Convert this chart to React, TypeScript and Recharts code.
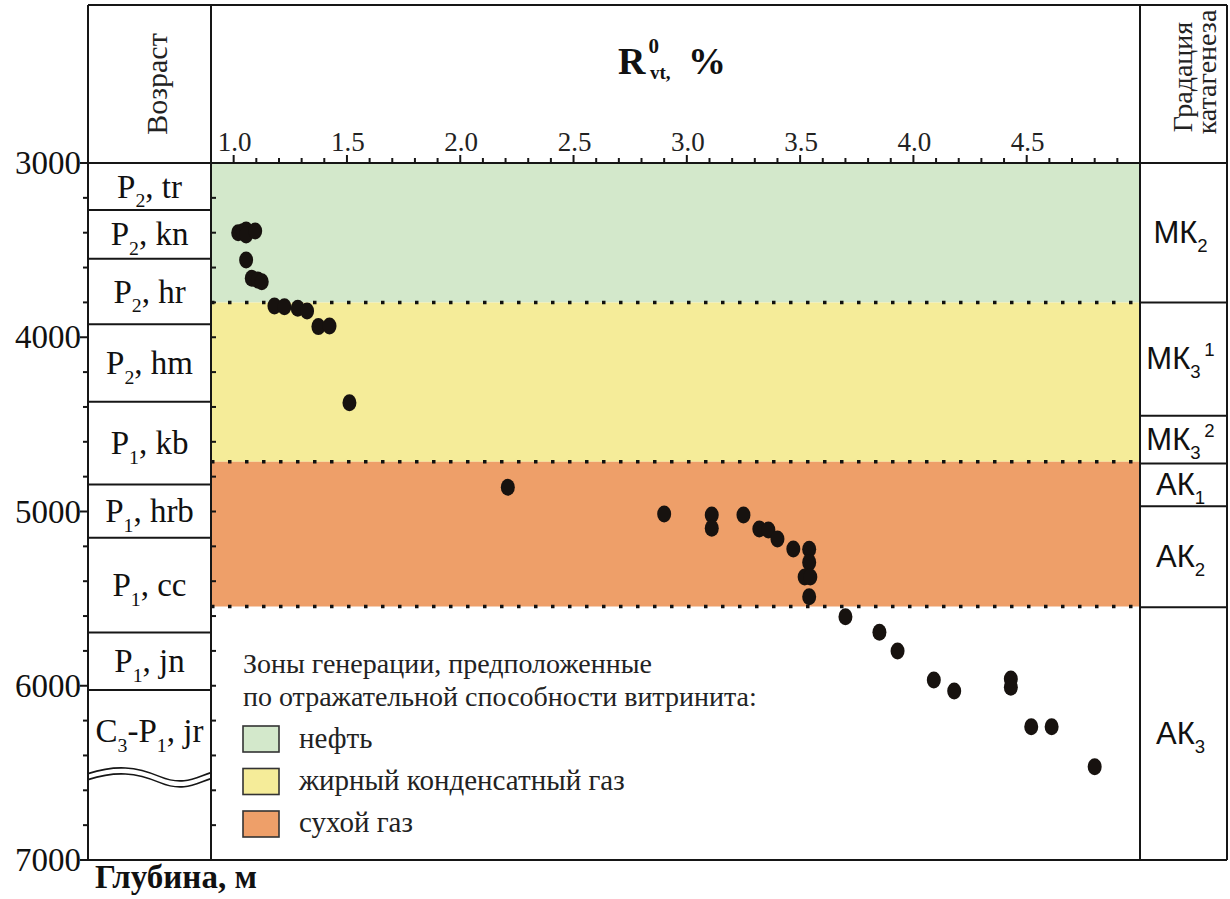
import React from 'react';
import {
  ScatterChart, Scatter, XAxis, YAxis, ReferenceArea, ReferenceLine,
} from 'recharts';

// vitrinite reflectance R0vt, % and sample depth, m
const rVt = [
  1.02, 1.04, 1.055, 1.055, 1.095, 1.055, 1.08, 1.107, 1.124,
  1.18, 1.224, 1.283, 1.324, 1.374, 1.423, 1.511,
  2.21, 2.90, 3.11, 3.11, 3.25, 3.32, 3.36, 3.40, 3.47,
  3.54, 3.54, 3.52, 3.545, 3.54,
  3.70, 3.85, 3.93, 4.09, 4.18, 4.43, 4.43, 4.52, 4.61, 4.80,
];
const depthM = [
  3400, 3395, 3385, 3413, 3390, 3557, 3662, 3672, 3681,
  3821, 3825, 3834, 3849, 3939, 3935, 4376,
  4861, 5014, 5020, 5096, 5020, 5100, 5106, 5158, 5215,
  5217, 5292, 5376, 5376, 5489,
  5604, 5693, 5801, 5967, 6030, 5961, 6009, 6235, 6235, 6465,
];

// generation zones
const zoneNames = ['нефть', 'жирный конденсатный газ', 'сухой газ'];
const zoneTop = [3000, 3800, 4715];
const zoneBottom = [3800, 4715, 5545];
const zoneColors = ['#d3e8cb', '#f5ec99', '#ee9f69'];

// age column
const ageLabels = ['P_2, tr', 'P_2, kn', 'P_2, hr', 'P_2, hm', 'P_1, kb', 'P_1, hrb', 'P_1, cc', 'P_1, jn', 'C_3-P_1, jr'];
const ageTop = [3000, 3270, 3550, 3925, 4370, 4845, 5150, 5695, 6025];
const ageBottom = [3270, 3550, 3925, 4370, 4845, 5150, 5695, 6025, 6500];
const ageBase = 7000;
const unconformity = 6510;

// catagenesis grade column
const gradeLabels = ['МК_2', 'МК_3^1', 'МК_3^2', 'АК_1', 'АК_2', 'АК_3'];
const gradeBounds = [3000, 3800, 4450, 4725, 4970, 5550, 7000];

// axes
const xTicks = [
  1.0, 1.1, 1.2, 1.3, 1.4, 1.5, 1.6, 1.7, 1.8, 1.9,
  2.0, 2.1, 2.2, 2.3, 2.4, 2.5, 2.6, 2.7, 2.8, 2.9,
  3.0, 3.1, 3.2, 3.3, 3.4, 3.5, 3.6, 3.7, 3.8, 3.9,
  4.0, 4.1, 4.2, 4.3, 4.4, 4.5, 4.6, 4.7, 4.8, 4.9,
];
const xLabelTicks = [1.0, 1.5, 2.0, 2.5, 3.0, 3.5, 4.0, 4.5];
const depthTicks = [
  3000, 3200, 3400, 3600, 3800, 4000, 4200, 4400, 4600, 4800,
  5000, 5200, 5400, 5600, 5800, 6000, 6200, 6400, 6600, 6800, 7000,
];
const depthLabelTicks = [3000, 4000, 5000, 6000, 7000];

const points = rVt.map((r, i) => ({ r, depth: depthM[i] }));

const INK = '#161616';
const SERIF = '"Liberation Serif", "DejaVu Serif", serif';
const SANS = '"Liberation Sans", Arial, sans-serif';
const AGE_W = 123;
const GRADE_W = 87;

const ageMid = ageTop.map((t, i) => (t + ageBottom[i]) / 2);
const ageLines = [...ageTop, ageBase];
const gradeMid = gradeLabels.map((_, i) => (gradeBounds[i] + gradeBounds[i + 1]) / 2);
const uniq = (a: number[]) => Array.from(new Set(a)).sort((p, q) => p - q);
const ageTicks = uniq([...ageLines, ...ageMid, ...depthTicks, unconformity]);
const gradeTicks = uniq([...gradeBounds, ...gradeMid]);

// "P_2, tr" -> P with subscript 2 ; "^1" superscript
function rich(label: string, size: number) {
  const parts = label.split(/(_\d|\^\d)/).filter(Boolean);
  let shift = 0;
  return parts.map((p, i) => {
    if (p[0] === '_') {
      const s = size * 0.3;
      const dy = s - shift; shift = s;
      return <tspan key={i} dy={dy} fontSize={size * 0.6}>{p.slice(1)}</tspan>;
    }
    if (p[0] === '^') {
      const s = -size * 0.42;
      const dy = s - shift; shift = s;
      return <tspan key={i} dy={dy} dx={size * 0.12} fontSize={size * 0.6}>{p.slice(1)}</tspan>;
    }
    const dy = -shift; shift = 0;
    return <tspan key={i} dy={dy}>{p}</tspan>;
  });
}

const isHalf = (v: number) => Math.abs(v * 2 - Math.round(v * 2)) < 1e-6;

const TopTick = ({ x, y, payload }: any) => {
  const v = payload.value;
  const major = isHalf(v);
  return (
    <g>
      <line x1={x} x2={x} y1={y} y2={y - (major ? 8 : 5)} stroke={INK} strokeWidth={2} />
      {xLabelTicks.includes(v) && (
        <text x={x + 1} y={y - 12} textAnchor="middle" fontFamily={SERIF} fontSize={27} fill="#222">
          {v.toFixed(1)}
        </text>
      )}
    </g>
  );
};

const BottomTick = ({ x, y, payload }: any) => (
  <line x1={x} x2={x} y1={y} y2={y - (isHalf(payload.value) ? 8 : 5)} stroke={INK} strokeWidth={2} />
);

const DepthTick = ({ x, y, payload }: any) => {
  const v = payload.value;
  const major = depthLabelTicks.includes(v);
  return (
    <g>
      <line x1={x} x2={x - (major ? 8 : 5)} y1={y} y2={y} stroke={INK} strokeWidth={2} />
      {major && (
        <text x={x - 7} y={y + 11} textAnchor="end" fontFamily={SERIF} fontSize={33} fill="#111">
          {v}
        </text>
      )}
    </g>
  );
};

const AgeTick = ({ x, y, payload }: any) => {
  const v = payload.value;
  const li = ageMid.indexOf(v);
  return (
    <g>
      {ageLines.includes(v) && (
        <line x1={x - AGE_W} x2={x} y1={y} y2={y} stroke={INK} strokeWidth={2} />
      )}
      {depthTicks.includes(v) && (
        <line x1={x} x2={x + 5} y1={y} y2={y} stroke={INK} strokeWidth={2} />
      )}
      {li >= 0 && (
        <text x={x - AGE_W / 2} y={y + 11} textAnchor="middle" fontFamily={SERIF} fontSize={33} fill="#111">
          {rich(ageLabels[li], 33)}
        </text>
      )}
      {v === unconformity && [0, 6].map((o) => (
        <path
          key={o}
          d={`M${x - AGE_W},${y - 1 + o} C${x - AGE_W + 28},${y - 10 + o} ${x - AGE_W + 48},${y - 8 + o} ${x - AGE_W + 72},${y + 2 + o} S${x - 14},${y + 2 + o} ${x},${y - 2 + o}`}
          fill="none" stroke={INK} strokeWidth={1.6}
        />
      ))}
    </g>
  );
};

const GradeTick = ({ x, y, payload }: any) => {
  const v = payload.value;
  const li = gradeMid.indexOf(v);
  return (
    <g>
      {gradeBounds.includes(v) && (
        <line x1={x} x2={x + GRADE_W} y1={y} y2={y} stroke={INK} strokeWidth={2} />
      )}
      {li >= 0 && (
        <text x={x + GRADE_W / 2 - 3} y={y + 10} textAnchor="middle" fontFamily={SANS} fontSize={31} fill="#111">
          {rich(gradeLabels[li], 31)}
        </text>
      )}
    </g>
  );
};

const Dot = (p: any) => <ellipse cx={p.cx} cy={p.cy} rx={7} ry={8.5} fill="#17120f" />;

const axisLine = { stroke: INK, strokeWidth: 2 };

export default function App() {
  return (
    <div style={{ position: 'absolute', left: 0, top: 0, width: 1230, height: 899, background: '#fff' }}>
      <ScatterChart width={1230} height={899} margin={{ top: 123, right: 3, bottom: 38, left: 0 }}>
        {zoneNames.map((n, i) => (
          <ReferenceArea
            key={n} xAxisId="top" yAxisId="depth"
            y1={zoneTop[i]} y2={zoneBottom[i]}
            fill={zoneColors[i]} fillOpacity={1} stroke="none"
          />
        ))}
        {zoneBottom.map((d) => (
          <ReferenceLine
            key={d} xAxisId="top" yAxisId="depth" y={d}
            stroke="#111" strokeWidth={3.5} strokeDasharray="3.5 13.5"
          />
        ))}
        <XAxis
          xAxisId="top" orientation="top" type="number" dataKey="r"
          domain={[0.9, 5.0]} allowDataOverflow ticks={xTicks} interval={0}
          height={40} tickSize={0} tickMargin={0} tickLine={false}
          axisLine={axisLine} tick={(p: any) => <TopTick {...p} />}
        />
        <XAxis
          xAxisId="bottom" orientation="bottom" type="number"
          domain={[0.9, 5.0]} allowDataOverflow ticks={xTicks} interval={0}
          height={1} tickSize={0} tickMargin={0} tickLine={false}
          axisLine={axisLine} tick={(p: any) => <BottomTick {...p} />}
        />
        <YAxis
          yAxisId="age" orientation="left" type="number" width={AGE_W}
          domain={[3000, 7000]} reversed allowDataOverflow ticks={ageTicks} interval={0}
          tickSize={0} tickMargin={0} tickLine={false}
          axisLine={axisLine} tick={(p: any) => <AgeTick {...p} />}
        />
        <YAxis
          yAxisId="depth" orientation="left" type="number" dataKey="depth" width={88}
          domain={[3000, 7000]} reversed allowDataOverflow ticks={depthTicks} interval={0}
          tickSize={0} tickMargin={0} tickLine={false}
          axisLine={axisLine} tick={(p: any) => <DepthTick {...p} />}
        />
        <YAxis
          yAxisId="grade" orientation="right" type="number" width={GRADE_W}
          domain={[3000, 7000]} reversed allowDataOverflow ticks={gradeTicks} interval={0}
          tickSize={0} tickMargin={0} tickLine={false}
          axisLine={axisLine} tick={(p: any) => <GradeTick {...p} />}
        />
        <Scatter
          data={points} xAxisId="top" yAxisId="depth"
          shape={Dot} isAnimationActive={false}
        />
      </ScatterChart>

      <svg
        width={1230} height={899}
        style={{ position: 'absolute', left: 0, top: 0, pointerEvents: 'none' }}
      >
        {/* header frame */}
        <g stroke={INK} strokeWidth={2}>
          <line x1={88} x2={1227} y1={5} y2={5} />
          <line x1={88} x2={88} y1={5} y2={163} />
          <line x1={211} x2={211} y1={5} y2={163} />
          <line x1={1140} x2={1140} y1={5} y2={163} />
          <line x1={1227} x2={1227} y1={5} y2={860} />
        </g>
        <text
          x={167} y={84} transform="rotate(-90 167 84)" textAnchor="middle"
          fontFamily={SERIF} fontSize={30} fill="#222"
        >Возраст</text>
        <text
          x={1192} y={77} transform="rotate(-90 1192 77)" textAnchor="middle"
          fontFamily={SERIF} fontSize={28} fill="#222"
        >Градация</text>
        <text
          x={1216} y={72} transform="rotate(-90 1216 72)" textAnchor="middle"
          fontFamily={SERIF} fontSize={28} fill="#222"
        >катагенеза</text>

        {/* title */}
        <text x={618} y={74} fontFamily={SERIF} fontWeight="bold" fontSize={38} fill="#111">
          R
          <tspan dx={3} dy={-21} fontSize={21}>0</tspan>
          <tspan dx={-9} dy={26} fontSize={19}>vt,</tspan>
          <tspan x={688} y={74} fontSize={38}>%</tspan>
        </text>

        {/* legend */}
        <text x={243} y={673} fontFamily={SERIF} fontSize={28} fill="#222">
          Зоны генерации, предположенные
        </text>
        <text x={243} y={706} fontFamily={SERIF} fontSize={28} fill="#222">
          по отражательной способности витринита:
        </text>
        {zoneNames.map((n, i) => (
          <g key={n}>
            <rect
              x={243} y={726 + i * 42.5} width={36} height={26}
              fill={zoneColors[i]} stroke="#333" strokeWidth={1.6}
            />
            <text x={299} y={748 + i * 42} fontFamily={SERIF} fontSize={29} fill="#222">{n}</text>
          </g>
        ))}

        <text x={95} y={888} fontFamily={SERIF} fontWeight="bold" fontSize={33} fill="#111">
          Глубина, м
        </text>
      </svg>
    </div>
  );
}
